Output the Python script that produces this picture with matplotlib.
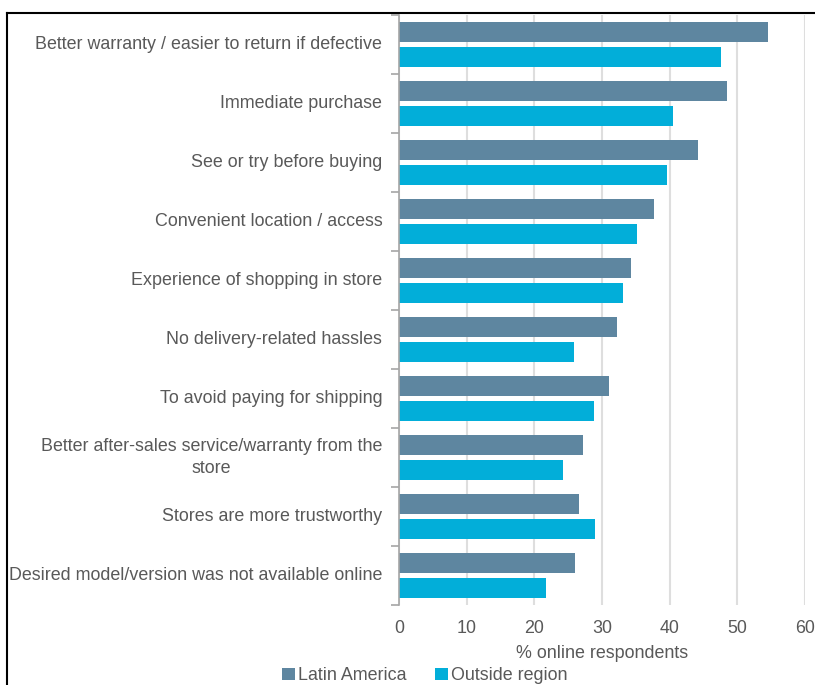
import matplotlib
matplotlib.use("Agg")
import matplotlib.pyplot as plt
import numpy as np
from matplotlib.lines import Line2D

plt.rcParams['font.family'] = ['Liberation Sans', 'DejaVu Sans']

categories = [
    "Better warranty / easier to return if defective",
    "Immediate purchase",
    "See or try before buying",
    "Convenient location / access",
    "Experience of shopping in store",
    "No delivery-related hassles",
    "To avoid paying for shipping",
    "Better after-sales service/warranty from the\nstore",
    "Stores are more trustworthy",
    "Desired model/version was not available online",
]
latin_america = [54.5, 48.5, 44.2, 37.7, 34.3, 32.2, 31.1, 27.2, 26.6, 26.0]
outside_region = [47.6, 40.5, 39.6, 35.1, 33.1, 25.8, 28.8, 24.2, 28.9, 21.7]
x_ticks = [0, 10, 20, 30, 40, 50, 60]
series_names = ["Latin America", "Outside region"]

W, H = 815, 685
fig = plt.figure(figsize=(W / 100, H / 100), dpi=100)
ax = fig.add_axes([399 / W, (H - 605) / H, (805 - 399) / W, (605 - 15) / H])

c_la = '#5e86a0'
c_or = '#02aed9'
text_c = '#595959'
fs = 12.9

n = len(categories)
y = np.arange(n)
h = 0.325
off = 0.212
ax.barh(y - off, latin_america, height=h, color=c_la, label=series_names[0], zorder=3)
ax.barh(y + off, outside_region, height=h, color=c_or, label=series_names[1], zorder=3)

ax.set_ylim(n - 0.5, -0.5)
ax.set_xlim(0, 60)
ax.set_xticks(x_ticks)
ax.set_xticklabels([str(t) for t in x_ticks])
ax.tick_params(axis='x', length=0, pad=10.5, labelsize=fs, labelcolor=text_c)

ax.set_yticks(y)
ax.set_yticklabels(categories, multialignment='center', linespacing=1.35,
                   va='center')
ax.tick_params(axis='y', which='major', length=0, pad=12, labelsize=fs, labelcolor=text_c)
ax.set_yticks(np.arange(n + 1) - 0.5, minor=True)
ax.tick_params(axis='y', which='minor', length=6, width=1.2, color='#a6a6a6')

ax.grid(axis='x', color='#dedede', linewidth=1.5, zorder=0)
for s in ['top', 'right', 'bottom']:
    ax.spines[s].set_visible(False)
ax.spines['left'].set_color('#a6a6a6')
ax.spines['left'].set_linewidth(1.2)
ax.spines['left'].set_zorder(4)

ax.set_xlabel("% online respondents", fontsize=fs, color=text_c, labelpad=6)

fig.legend(loc='lower center', bbox_to_anchor=(425 / W, 0.0), ncol=2,
           frameon=False, fontsize=fs, labelcolor=text_c, handlelength=0.7,
           handleheight=0.7, handletextpad=0.2, columnspacing=1.6,
           borderaxespad=0.0, borderpad=0.05)

# outer frame lines
fig.add_artist(Line2D([7 / W, 1], [1 - 13 / H, 1 - 13 / H], color='black', lw=1.5, transform=fig.transFigure))
fig.add_artist(Line2D([7 / W, 7 / W], [1 - 13 / H, 0], color='black', lw=1.5, transform=fig.transFigure))

fig.savefig("out.png", dpi=100)
